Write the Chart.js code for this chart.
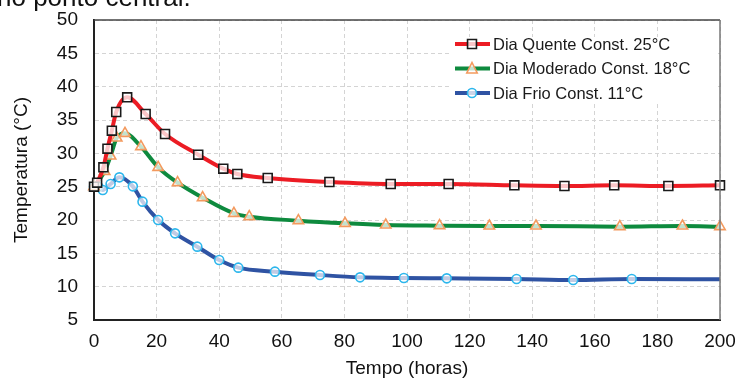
<!DOCTYPE html>
<html>
<head>
<meta charset="utf-8">
<script src="https://cdn.jsdelivr.net/npm/chart.js@4"></script>
<style>
  html, body { margin: 0; padding: 0; background: #fff; overflow: hidden; }
  #wrap { position: relative; width: 735px; height: 380px; }
  #cut { position: absolute; left: -3px; top: -16px; font: 26px "Liberation Sans", Arial, sans-serif;
         line-height: 26px; color: #111; white-space: nowrap; }
</style>
</head>
<body>
<div id="wrap">
  <canvas id="c" width="735" height="380"></canvas>
  <div id="cut">no ponto central.</div>
</div>
<script>
// ===== Data =====
const seriesLabels = ['Dia Quente Const. 25°C', 'Dia Moderado Const. 18°C', 'Dia Frio Const. 11°C'];

const hotTime  = [0, 1, 3, 4.3, 5.7, 7.1, 10.6, 16.5, 22.7, 33.3, 41.3, 45.8, 55.5, 75.2, 94.8, 113.3, 134.3, 150.3, 166.2, 183.5, 200];
const hotTemp  = [25, 25.6, 27.9, 30.7, 33.4, 36.2, 38.4, 35.9, 32.9, 29.8, 27.7, 26.9, 26.3, 25.7, 25.4, 25.4, 25.2, 25.1, 25.2, 25.1, 25.2];

const modTime  = [0, 3.4, 5.3, 7.25, 9.9, 15, 20.5, 26.7, 34.7, 44.7, 49.6, 65.3, 80.2, 93.2, 110.4, 126.3, 141.2, 168, 188, 200];
const modTemp  = [25, 27.3, 29.6, 32.3, 33, 31, 27.9, 25.6, 23.35, 21, 20.5, 19.9, 19.5, 19.25, 19.15, 19.1, 19.1, 19, 19.1, 19];

const coldTime = [0, 1.4, 2.8, 5.3, 8.1, 12.4, 15.5, 20.5, 25.9, 33, 40, 46.1, 57.8, 72.2, 85, 99, 112.7, 135, 153.1, 171.8, 200];
const coldTemp = [25, 25, 24.5, 25.4, 26.4, 25.05, 22.75, 20, 18, 16, 14, 12.85, 12.25, 11.75, 11.4, 11.3, 11.25, 11.15, 11, 11.15, 11.1];

// ===== Helpers =====
const FONT = '"Liberation Sans", Arial, sans-serif';
const pts = (xs, ys) => xs.map((x, i) => ({ x, y: ys[i] }));

function marker(ctx, style, x, y, r, stroke, lw) {
  ctx.save();
  ctx.fillStyle = 'rgba(255,255,255,0.75)';
  ctx.strokeStyle = stroke;
  ctx.lineWidth = lw;
  ctx.beginPath();
  if (style === 'rect') {
    const s = r * Math.SQRT1_2;
    ctx.rect(x - s, y - s, 2 * s, 2 * s);
  } else if (style === 'triangle') {
    ctx.moveTo(x, y - r);
    ctx.lineTo(x + r * 0.866, y + r * 0.75);
    ctx.lineTo(x - r * 0.866, y + r * 0.75);
    ctx.closePath();
  } else {
    ctx.arc(x, y, r, 0, Math.PI * 2);
  }
  ctx.fill();
  ctx.stroke();
  ctx.restore();
}

// ===== Plugins =====
const frame = {
  id: 'frame',
  afterDatasetsDraw(chart) {
    const { ctx, chartArea: a } = chart;
    ctx.save();
    ctx.lineWidth = 1.5;
    ctx.strokeStyle = '#444';
    ctx.beginPath(); ctx.moveTo(a.left, a.top); ctx.lineTo(a.right, a.top); ctx.stroke();
    ctx.strokeStyle = '#777';
    ctx.beginPath(); ctx.moveTo(a.right, a.top); ctx.lineTo(a.right, a.bottom); ctx.stroke();
    ctx.restore();
  }
};

const legendBox = {
  id: 'legendBox',
  afterDatasetsDraw(chart) {
    const { ctx, chartArea: a } = chart;
    const x0 = a.right - 265, y0 = a.top + 24;
    ctx.save();
    ctx.fillStyle = '#fff';
    ctx.fillRect(a.right - 270, a.top + 17, 266, 64);
    chart.data.datasets.forEach((ds, i) => {
      const y = y0 + i * 24.5;
      ctx.strokeStyle = ds.borderColor;
      ctx.lineWidth = 4;
      ctx.beginPath(); ctx.moveTo(x0, y); ctx.lineTo(x0 + 35, y); ctx.stroke();
      marker(ctx, ds.pointStyle, x0 + 17, y, ds.legendRadius, ds.pointBorderColor, ds.pointBorderWidth);
      ctx.fillStyle = '#1a1a1a';
      ctx.font = '16.5px ' + FONT;
      ctx.textBaseline = 'middle';
      ctx.fillText(ds.label, x0 + 38, y + 1);
    });
    ctx.restore();
  }
};

// ===== Chart =====
const common = {
  showLine: true,
  borderWidth: 4,
  cubicInterpolationMode: 'monotone',
  pointBorderWidth: 1.6,
  pointHoverRadius: 0,
  clip: false,
};

new Chart(document.getElementById('c'), {
  type: 'scatter',
  data: {
    datasets: [
      { ...common, label: seriesLabels[0], data: pts(hotTime, hotTemp),
        borderColor: '#ec1c24', pointStyle: 'rect', pointRadius: 6.3, legendRadius: 6.3,
        pointBorderColor: '#1a1a1a', pointBackgroundColor: 'rgba(255,255,255,0.75)' },
      { ...common, label: seriesLabels[1], data: pts(modTime, modTemp),
        borderColor: '#0e8a3e', pointStyle: 'triangle', pointRadius: 6, legendRadius: 6,
        pointBorderColor: '#f39a5e', pointBackgroundColor: 'rgba(255,255,255,0.75)' },
      { ...common, label: seriesLabels[2], data: pts(coldTime, coldTemp),
        borderColor: '#2f53a3', pointStyle: 'circle', legendRadius: 4.5,
        pointRadius: c => (c.dataIndex === coldTime.length - 1 ? 0 : 4.5),
        pointBorderColor: '#2cb6ec', pointBackgroundColor: 'rgba(255,255,255,0.7)' },
    ]
  },
  options: {
    responsive: false,
    animation: false,
    layout: { padding: { left: 0, right: 15, top: 20, bottom: 0 } },
    plugins: { legend: { display: false }, tooltip: { enabled: false } },
    scales: {
      x: {
        type: 'linear', min: 0, max: 200,
        afterFit: s => { s.height = 60; s.paddingLeft = 0; s.paddingRight = 0; },
        ticks: { stepSize: 20, color: '#111', padding: 10, font: { family: FONT, size: 19 } },
        grid: { color: '#d4d4d4', drawTicks: false, tickLength: 0 },
        border: { color: '#222', width: 2, dash: [4, 3] },
        title: { display: true, text: 'Tempo (horas)', color: '#111', padding: { top: 0, bottom: 0 },
                 font: { family: FONT, size: 19 } }
      },
      y: {
        min: 5, max: 50,
        afterFit: s => { s.width = 94; s.paddingTop = 0; s.paddingBottom = 0; },
        ticks: { stepSize: 5, color: '#111', padding: 16, font: { family: FONT, size: 19 } },
        grid: { color: '#d4d4d4', drawTicks: false, tickLength: 0 },
        border: { color: '#222', width: 2, dash: [4, 3] },
        title: { display: true, text: 'Temperatura (°C)', color: '#111', padding: { top: 10, bottom: 0 },
                 font: { family: FONT, size: 19 } }
      }
    }
  },
  plugins: [frame, legendBox]
});
</script>
</body>
</html>
